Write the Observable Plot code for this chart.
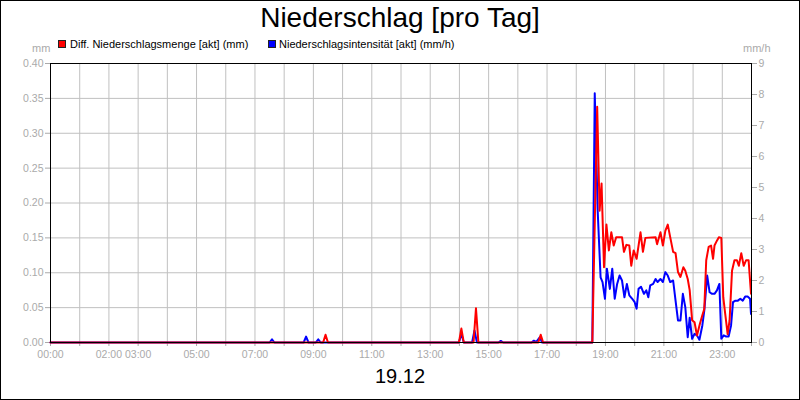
<!DOCTYPE html>
<html>
<head>
<meta charset="utf-8">
<script src="https://cdn.jsdelivr.net/npm/d3@7"></script>
<script src="https://cdn.jsdelivr.net/npm/@observablehq/plot@0.6"></script>
<style>
  body { margin: 0; background: #fff; }
  #chart { position: relative; width: 800px; height: 400px; overflow: hidden; background: #fff;
           font-family: "Liberation Sans", Arial, sans-serif; }
  #border { position: absolute; left: 0; top: 0; width: 800px; height: 400px; box-sizing: border-box;
            border: 1px solid #000; pointer-events: none; }
  #title { height: 36px; line-height: 36px; font-size: 28px; text-align: center; color: #000; }
  #legend { position: relative; height: 20px; font-size: 11px; color: #000; }
  #legend .sw { position: absolute; top: 4px; width: 6px; height: 6px; border: 1px solid #222; }
  #legend .tx { position: absolute; top: 2px; line-height: 13px; white-space: nowrap; }
  #legend .unit { position: absolute; top: 6px; line-height: 13px; color: #aaaaaa; white-space: nowrap; }
  #plot { height: 310px; }
  #plot svg { display: block; }
  #date { height: 24px; line-height: 20px; font-size: 20px; text-align: center; color: #000; }
</style>
</head>
<body>
<div id="chart">
  <div id="title"></div>
  <div id="legend"></div>
  <div id="plot"></div>
  <div id="date"></div>
  <div id="border"></div>
</div>
<script>
// ---- texts ----
const titleText = "Niederschlag [pro Tag]";
const dateText = "19.12";
const seriesNames = ["Diff. Niederschlagsmenge [akt] (mm)", "Niederschlagsintensität [akt] (mm/h)"];
const seriesColors = ["#ff0000", "#0000ff"];
const leftUnit = "mm";
const rightUnit = "mm/h";

// ---- axis ticks ----
const xHourTicks = [0,1,2,3,4,5,6,7,8,9,10,11,12,13,14,15,16,17,18,19,20,21,22,23,24];
const xTickLabels = ["00:00","02:00","03:00","05:00","07:00","09:00","11:00","13:00","15:00","17:00","19:00","21:00","23:00"];
const leftTicks = [0, 0.05, 0.10, 0.15, 0.20, 0.25, 0.30, 0.35, 0.40];
const rightTicks = [0, 1, 2, 3, 4, 5, 6, 7, 8, 9];

// ---- series: Diff. Niederschlagsmenge (mm) ----
const redTimes = ["00:00","09:20","09:25","09:30","13:59","14:04","14:09","14:29","14:34","14:39","16:42","16:47","16:52",
  "18:33","18:43","18:48","18:52","18:57","19:02","19:07","19:12","19:17","19:22","19:34","19:38","19:43","19:49","19:53","19:58",
  "20:04","20:12","20:17","20:22","20:43","20:46","20:53","20:58","21:03","21:08","21:13","21:19","21:24","21:29","21:34","21:40",
  "21:44","21:49","21:53","21:58","22:03","22:08","22:14","22:19","22:23","22:27","22:32","22:37","22:41","22:44","22:49","22:53",
  "22:58","23:02","23:06","23:11","23:15","23:20","23:25","23:30","23:34","23:39","23:44","23:49","23:54","23:59"];
const redValues = [0,0,0.011,0,0,0.02,0,0,0.049,0,0,0.011,0,
  0,0.338,0.189,0.228,0.108,0.169,0.132,0.158,0.139,0.151,0.151,0.13,0.14,0.139,0.11,0.132,
  0.12,0.158,0.13,0.15,0.151,0.141,0.158,0.139,0.16,0.169,0.151,0.13,0.128,0.101,0.094,0.108,
  0.103,0.091,0.075,0.032,0.029,0.01,0.027,0.039,0.048,0.118,0.137,0.139,0.12,0.139,0.146,0.151,
  0.15,0.065,0.041,0.012,0.032,0.103,0.118,0.118,0.11,0.128,0.11,0.118,0.118,0.07];

// ---- series: Niederschlagsintensität (mm/h) ----
const blueTimes = ["00:00","07:30","07:35","07:40","08:40","08:45","08:50","09:05","09:10","09:15","13:59","14:04","14:09",
  "14:26","14:31","14:36","15:20","15:25","15:30","16:28","16:33","16:38","16:45","16:50",
  "18:33","18:38","18:44","18:50","18:54","18:59","19:03","19:09","19:14","19:19","19:24","19:29","19:34","19:39","19:44","19:49",
  "19:55","20:00","20:04","20:08","20:13","20:19","20:24","20:28","20:32","20:38","20:43","20:47","20:53","20:58","21:03","21:08",
  "21:13","21:19","21:24","21:29","21:34","21:39","21:44","21:49","21:53","21:58","22:03","22:08","22:13","22:19","22:23","22:29",
  "22:34","22:39","22:44","22:49","22:54","22:58","23:03","23:08","23:13","23:18","23:22","23:27","23:32","23:37","23:42","23:47",
  "23:52","23:57","23:59"];
const blueValues = [0,0,0.1,0,0,0.19,0,0,0.1,0,0,0.28,0,
  0,0.39,0,0,0.05,0,0,0.06,0.02,0.17,0,
  0,8.04,4.26,2.1,1.95,1.41,2.38,1.73,2.38,1.41,1.89,2.16,2.0,1.46,1.89,1.52,
  1.41,1.3,1.09,1.73,1.8,1.57,1.68,1.46,1.84,1.89,2.05,1.95,2.05,1.95,2.27,2.16,
  1.95,2.0,1.35,0.71,0.71,1.57,1.14,0.17,0.8,0.12,0.28,0.23,0.09,0.55,1.03,2.16,
  1.62,1.57,1.57,1.68,1.89,0.12,0.23,0.19,0.19,0.55,1.3,1.35,1.35,1.41,1.35,1.48,
  1.48,1.41,0.92];

// ---- helpers ----
const toHours = s => { const [h, m] = s.split(":").map(Number); return h + m / 60; };
const zip = (ts, vs) => d3.range(Math.min(ts.length, vs.length)).map(i => ({t: toHours(ts[i]), v: vs[i]}));
const red = zip(redTimes, redValues);
const blue = zip(blueTimes, blueValues);
const yMax = leftTicks[leftTicks.length - 1];
const rMax = rightTicks[rightTicks.length - 1];
const toLeft = v => v * yMax / rMax;
const labelSet = new Set(xTickLabels);
const fmtHour = h => { const s = String(h % 24).padStart(2, "0") + ":00"; return h < 24 && labelSet.has(s) ? s : ""; };

// ---- header ----
document.getElementById("title").textContent = titleText;
document.getElementById("date").textContent = dateText;
const legend = document.getElementById("legend");
const legendPos = [[58, 70], [268, 279]];
seriesNames.forEach((name, i) => {
  const sw = document.createElement("div");
  sw.className = "sw"; sw.style.left = legendPos[i][0] + "px"; sw.style.background = seriesColors[i];
  legend.appendChild(sw);
  const tx = document.createElement("div");
  tx.className = "tx"; tx.style.left = legendPos[i][1] + "px"; tx.textContent = name;
  legend.appendChild(tx);
});
const lu = document.createElement("div"); lu.className = "unit"; lu.style.left = "32px"; lu.textContent = leftUnit; legend.appendChild(lu);
const ru = document.createElement("div"); ru.className = "unit"; ru.style.left = "743px"; ru.textContent = rightUnit; legend.appendChild(ru);

// ---- plot ----
const gray = "#aaaaaa";
const chart = Plot.plot({
  width: 800,
  height: 310,
  marginLeft: 50,
  marginRight: 49,
  marginTop: 7,
  marginBottom: 24,
  style: { fontFamily: "'Liberation Sans', Arial, sans-serif", fontSize: "10.5px", color: gray, background: "transparent", overflow: "visible" },
  x: { domain: [0, 24] },
  y: { domain: [0, yMax] },
  marks: [
    Plot.gridX(xHourTicks.slice(1, -1), { stroke: "#c0c0c0", strokeOpacity: 1 }),
    Plot.gridY(leftTicks.slice(1, -1), { stroke: "#c0c0c0", strokeOpacity: 1 }),
    Plot.axisX(xHourTicks, { tickSize: 4, tickPadding: 4, tickFormat: fmtHour, stroke: gray, fill: gray, label: null }),
    Plot.axisY(leftTicks, { anchor: "left", tickSize: 5, tickPadding: 2, tickFormat: d3.format(".2f"), stroke: gray, fill: gray, label: null }),
    Plot.axisY(rightTicks.map(toLeft), { anchor: "right", tickSize: 5, tickPadding: 2, tickFormat: d => String(Math.round(d * rMax / yMax)), stroke: gray, fill: gray, label: null }),
    Plot.lineY(blue, { x: "t", y: d => toLeft(d.v), stroke: seriesColors[1], strokeWidth: 2 }),
    Plot.lineY(red, { x: "t", y: "v", stroke: seriesColors[0], strokeWidth: 2 }),
    Plot.frame({ stroke: "#000" })
  ]
});
document.getElementById("plot").appendChild(chart);
</script>
</body>
</html>
